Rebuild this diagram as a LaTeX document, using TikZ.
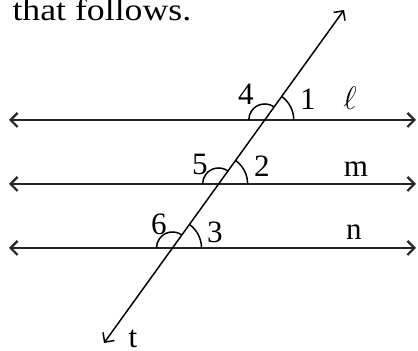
\documentclass[tikz,border=0pt]{standalone}
\usepackage{fontspec}
\setmainfont{Liberation Serif}
\usetikzlibrary{arrows.meta}

\begin{document}
\begin{tikzpicture}[
        x=0.37pt, y=0.37pt,
        >={Straight Barb[length=2.6pt,width=5.2pt]},
        % Stile per le rette parallele e la trasversale
        retta/.style={<->, line width=0.8pt, draw=black!85},
        trasv/.style={<->, line width=0.55pt},
        arco/.style={line width=0.55pt},
        etichetta/.style={anchor=base, inner sep=0pt, font=\fontsize{11.5}{13}\selectfont}
    ]

    \useasboundingbox (0,0) rectangle (418,351);

    % --- Testo in alto ---
    \node[anchor=base west, inner sep=0pt, font=\fontsize{11.5}{14}\selectfont] (testo) at (12,330) {\scalebox{1.15}[1]{that follows.}};

    % --- Rette l, m, n ---
    \coordinate (L1) at (9,231);   \coordinate (L2) at (416,231);
    \coordinate (M1) at (9,167);   \coordinate (M2) at (416,167);
    \coordinate (N1) at (9,103);   \coordinate (N2) at (416,103);
    \draw[retta] (L1) -- (L2);
    \draw[retta] (M1) -- (M2);
    \draw[retta] (N1) -- (N2);

    % --- Trasversale t ---
    \coordinate (T1) at (104,8);
    \coordinate (T2) at (344,341);
    \draw[trasv] (T1) -- (T2);

    % Punti di intersezione
    \coordinate (PL) at (intersection of T1--T2 and L1--L2);
    \coordinate (PM) at (intersection of T1--T2 and M1--M2);
    \coordinate (PN) at (intersection of T1--T2 and N1--N2);

    % --- Archi degli angoli ---
    \draw[arco] (PL) ++(29,0) arc[start angle=0, end angle=54.2, radius=29];
    \draw[arco] (PL) ++(54.2:16) arc[start angle=54.2, end angle=180, radius=16];
    \draw[arco] (PM) ++(29,0) arc[start angle=0, end angle=54.2, radius=29];
    \draw[arco] (PM) ++(54.2:16) arc[start angle=54.2, end angle=180, radius=16];
    \draw[arco] (PN) ++(29,0) arc[start angle=0, end angle=54.2, radius=29];
    \draw[arco] (PN) ++(54.2:16) arc[start angle=54.2, end angle=180, radius=16];

    % --- Etichette ---
    \node[etichetta] (a4) at (246,246) {4};
    \node[etichetta] (a1) at (308,241) {1};
    \node[etichetta] (rl) at (350,241) {$\ell$};
    \node[etichetta] (a5) at (200,176) {5};
    \node[etichetta] (a2) at (262,174) {2};
    \node[etichetta] (rm) at (356,174) {m};
    \node[etichetta] (a6) at (159,116) {6};
    \node[etichetta] (a3) at (215,108) {3};
    \node[etichetta] (rn) at (354,111) {n};
    \node[etichetta] (rt) at (133,3) {t};

\end{tikzpicture}
\end{document}
